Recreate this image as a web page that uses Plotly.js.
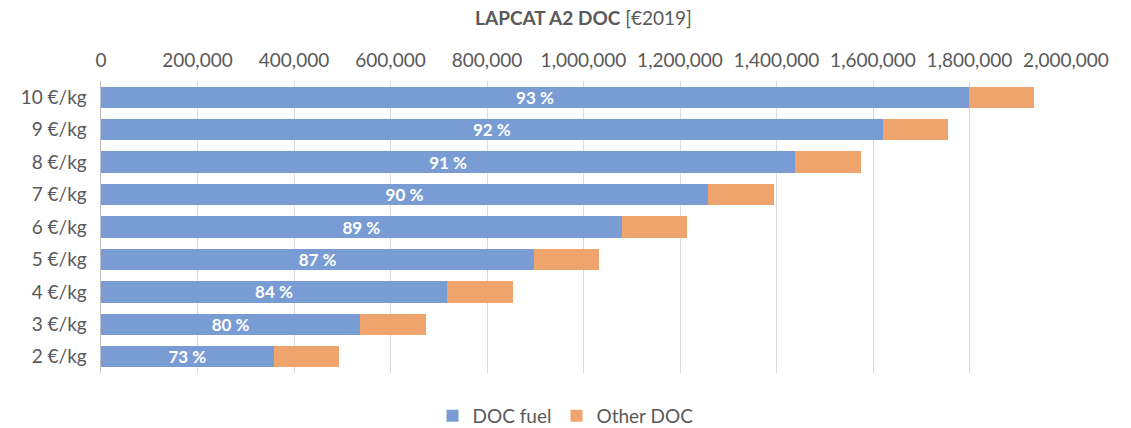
<!DOCTYPE html>
<html>
<head>
<meta charset="utf-8">
<script src="https://cdn.plot.ly/plotly-3.0.1.min.js"></script>
<style>html,body{margin:0;padding:0;background:#fff;}#chart{width:1131px;height:428px;}</style>
</head>
<body>
<div id="chart"></div>
<script>
const categories = ["2 €/kg","3 €/kg","4 €/kg","5 €/kg","6 €/kg","7 €/kg","8 €/kg","9 €/kg","10 €/kg"];
const docFuel = [357700, 537000, 717000, 898000, 1079000, 1258000, 1439000, 1620000, 1799000];
const otherDoc = [135300, 136000, 137000, 135000, 135000, 137000, 136000, 135000, 135000];
const fuelShareLabels = ["73 %","80 %","84 %","87 %","89 %","90 %","91 %","92 %","93 %"];
const xTicks = [0,200000,400000,600000,800000,1000000,1200000,1400000,1600000,1800000,2000000];

const FONT = "Lato, 'Open Sans', sans-serif";
const GREY = "#595959";

const data = [
  {
    type: "bar", orientation: "h", name: "DOC fuel",
    y: categories, x: docFuel,
    marker: {color: "#7A9CD4"},
    text: fuelShareLabels, textposition: "inside", insidetextanchor: "middle",
    textfont: {color: "#ffffff", size: 17, family: FONT, weight: "bold"},
    cliponaxis: false,
    hoverinfo: "x+name"
  },
  {
    type: "bar", orientation: "h", name: "Other DOC",
    y: categories, x: otherDoc,
    marker: {color: "#F0A46D"},
    hoverinfo: "x+name"
  }
];

const layout = {
  width: 1131, height: 428,
  margin: {l: 101, r: 65, t: 81, b: 55},
  barmode: "stack",
  bargap: 0.34,
  uniformtext: {minsize: 17, mode: "show"},
  paper_bgcolor: "#fff", plot_bgcolor: "#fff",
  font: {family: FONT, color: GREY, size: 19},
  title: {
    text: "<b>LAPCAT A2 DOC</b> [€2019]",
    x: 0.5, xref: "paper", yref: "container", y: 0.958, yanchor: "middle",
    font: {family: FONT, size: 19, color: GREY}
  },
  xaxis: {
    side: "top", range: [0, 2000000],
    tickvals: xTicks, tickformat: ",d",
    showgrid: true, gridcolor: "#d9d9d9", gridwidth: 1,
    zeroline: false, showline: false, ticks: "",
    ticklabelstandoff: 9,
    tickfont: {size: 19, color: GREY, family: FONT},
    fixedrange: true
  },
  yaxis: {
    type: "category", categoryorder: "array", categoryarray: categories,
    showline: true, linecolor: "#bfbfbf", linewidth: 1.5,
    showgrid: false, zeroline: false, ticks: "",
    ticklabelstandoff: 9,
    tickfont: {size: 19, color: GREY, family: FONT},
    fixedrange: true
  },
  showlegend: true,
  legend: {
    orientation: "h", x: 0.5, xref: "container", xanchor: "center",
    yref: "container", y: 0.028, yanchor: "middle",
    font: {size: 19, color: GREY, family: FONT},
    traceorder: "normal", itemwidth: 30
  }
};

Plotly.newPlot("chart", data, layout, {displayModeBar: false, staticPlot: true});
</script>
</body>
</html>
